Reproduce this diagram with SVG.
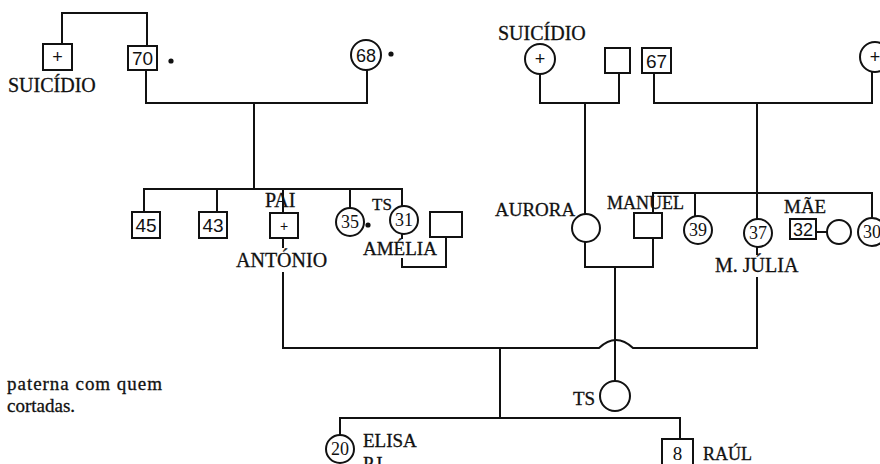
<svg xmlns="http://www.w3.org/2000/svg" width="880" height="464" viewBox="0 0 880 464">
<style>
.ln{fill:none;stroke:#111;stroke-width:2;stroke-linecap:square;stroke-linejoin:miter}
.sh{fill:#fff;stroke:#111;stroke-width:2}
.lb{font-family:"Liberation Serif","Times New Roman",serif;font-size:19px;fill:#111;stroke:#111;stroke-width:0.3}
.nb{font-family:"Liberation Sans",Arial,sans-serif;font-size:19px;fill:#111;text-anchor:middle}
.nc{font-family:"Liberation Serif","Times New Roman",serif;font-size:18px;fill:#111;text-anchor:middle}
.pl{font-family:"Liberation Sans",Arial,sans-serif;font-size:18px;fill:#111;text-anchor:middle}
.dot{fill:#111}
</style>
<rect width="880" height="464" fill="#fff"/>
<g id="connectors">
<path class="ln" d="M62,44 V13 H147 V46"/>
<path class="ln" d="M146,70 V103 H367 V70"/>
<path class="ln" d="M254,103 V189"/>
<path class="ln" d="M144,212 V189 H402 V206"/>
<path class="ln" d="M217,189 V212"/>
<path class="ln" d="M283,189 V213"/>
<path class="ln" d="M350,189 V208"/>
<path class="ln" d="M283,238 V247"/>
<path class="ln" d="M283,273 V348 H599 Q616,332 633,348 H757 V278"/>
<path class="ln" d="M402,234 V238"/>
<path class="ln" d="M402,259 V267 H446 V237"/>
<path class="ln" d="M540,74 V103 H619 V73"/>
<path class="ln" d="M585,103 V214"/>
<path class="ln" d="M654,73 V103 H872 V72"/>
<path class="ln" d="M757,103 V193"/>
<path class="ln" d="M653,213 V193 H872 V218"/>
<path class="ln" d="M695,193 V216"/>
<path class="ln" d="M757,193 V219"/>
<path class="ln" d="M757,247 V254"/>
<path class="ln" d="M585,242 V267 H653 V238"/>
<path class="ln" d="M615,267 V381"/>
<path class="ln" d="M816,232 H827"/>
<path class="ln" d="M500,348 V418"/>
<path class="ln" d="M340,435 V418 H680 V439"/>
</g>
<g id="n-suicidio-left">
<rect class="sh" x="43" y="44" width="29" height="26"/>
<text class="pl" x="57.5" y="63">+</text>
<text class="lb" x="8" y="92" style="font-size:20px">SUICÍDIO</text>
</g>
<g id="n-70">
<rect class="sh" x="128" y="46" width="29" height="24"/>
<text class="nb" x="142.5" y="65">70</text>
<circle class="dot" cx="171" cy="61" r="2.6"/>
</g>
<g id="n-68">
<circle class="sh" cx="366" cy="55" r="15"/>
<text class="nb" x="366" y="62" style="font-size:18px">68</text>
<circle class="dot" cx="391" cy="54" r="2.6"/>
</g>
<g id="n-45">
<rect class="sh" x="132" y="212" width="28" height="26"/>
<text class="nb" x="146" y="232">45</text>
</g>
<g id="n-43">
<rect class="sh" x="199" y="212" width="28" height="26"/>
<text class="nb" x="213" y="232">43</text>
</g>
<g id="n-antonio">
<text class="lb" x="265" y="207" style="font-size:20px">PAI</text>
<rect class="sh" x="270" y="213" width="28" height="25"/>
<text class="pl" x="284" y="231" style="font-size:14px">+</text>
<text class="lb" x="236" y="267" style="font-size:20px">ANTÓNIO</text>
</g>
<g id="n-35">
<circle class="sh" cx="350" cy="222" r="14"/>
<text class="nc" x="350" y="228">35</text>
<circle class="dot" cx="368" cy="225" r="2.6"/>
</g>
<g id="n-amelia">
<text class="lb" x="372" y="210" style="font-size:17px">TS</text>
<circle class="sh" cx="404" cy="220" r="14"/>
<text class="nc" x="404" y="226">31</text>
<text class="lb" x="363" y="255">AMÉLIA</text>
</g>
<g id="n-amelia-husband">
<rect class="sh" x="430" y="212" width="32" height="25"/>
</g>
<g id="n-suicidio-right">
<text class="lb" x="498" y="40" style="font-size:20px">SUICÍDIO</text>
<circle class="sh" cx="540" cy="59" r="15"/>
<text class="pl" x="540" y="65">+</text>
</g>
<g id="n-box-top">
<rect class="sh" x="605" y="48" width="25" height="25"/>
</g>
<g id="n-67">
<rect class="sh" x="642" y="48" width="29" height="25"/>
<text class="nb" x="656.5" y="68">67</text>
</g>
<g id="n-plus-right">
<circle class="sh" cx="875" cy="57" r="15"/>
<text class="pl" x="875" y="63">+</text>
</g>
<g id="n-aurora">
<text class="lb" x="495" y="216">AURORA</text>
<circle class="sh" cx="586" cy="228" r="14"/>
</g>
<g id="n-manuel">
<rect class="sh" x="634" y="213" width="28" height="25"/>
<text class="lb" x="607" y="209" style="font-size:18px">MANUEL</text>
</g>
<g id="n-39">
<circle class="sh" cx="698" cy="230" r="14"/>
<text class="nc" x="698" y="236">39</text>
</g>
<g id="n-julia">
<circle class="sh" cx="758" cy="233" r="14"/>
<text class="nc" x="758" y="239">37</text>
<text class="lb" x="715" y="272" style="font-size:20px">M. JÚLIA</text>
</g>
<g id="n-mae">
<text class="lb" x="784" y="213">MÃE</text>
<rect class="sh" x="790" y="219" width="26" height="20"/>
<text class="nb" x="803" y="236" style="font-size:18px">32</text>
<circle class="sh" cx="839" cy="232" r="12"/>
</g>
<g id="n-30">
<circle class="sh" cx="872" cy="232" r="14"/>
<text class="nc" x="872" y="238">30</text>
</g>
<g id="n-ts">
<text class="lb" x="573" y="405">TS</text>
<circle class="sh" cx="615" cy="396" r="15"/>
</g>
<g id="n-elisa">
<circle class="sh" cx="340" cy="449" r="14"/>
<text class="nc" x="340" y="455">20</text>
<text class="lb" x="363" y="447">ELISA</text>
<text class="lb" x="363" y="470">P.I.</text>
</g>
<g id="n-raul">
<rect class="sh" x="662" y="439" width="31" height="32"/>
<text class="nb" x="677.5" y="460" style="font-family:'Liberation Serif',serif;font-size:19px">8</text>
<text class="lb" x="703" y="460" style="font-size:18px">RAÚL</text>
</g>
<g id="note">
<text class="lb" x="7" y="390" textLength="155">paterna com quem</text>
<text class="lb" x="7" y="412">cortadas.</text>
</g>
</svg>
